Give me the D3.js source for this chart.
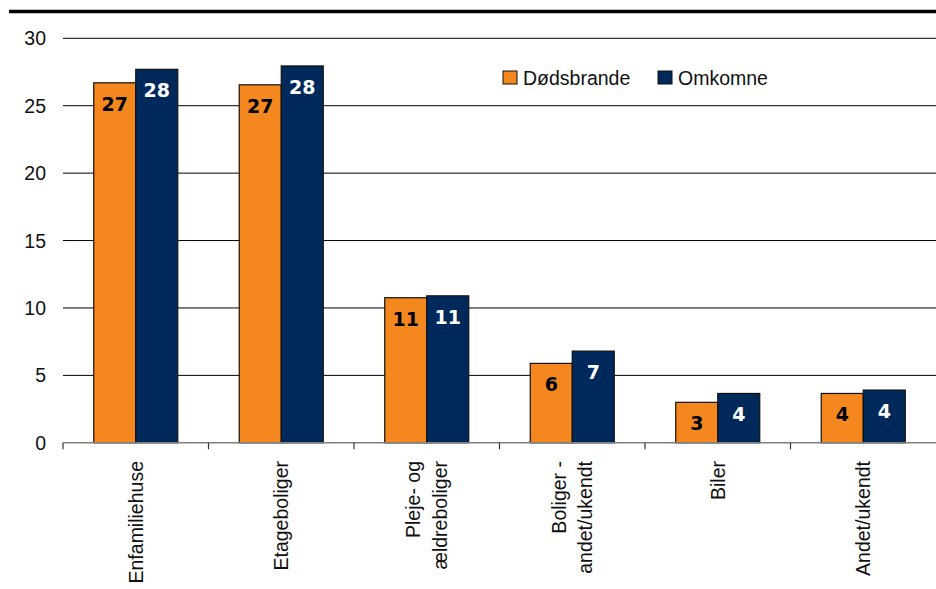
<!DOCTYPE html>
<html>
<head>
<meta charset="utf-8">
<script src="https://cdn.jsdelivr.net/npm/d3@7/dist/d3.min.js"></script>
<style>
  html, body { margin: 0; padding: 0; background: #fff; }
  svg { display: block; }
  text { font-family: "Liberation Sans", Arial, sans-serif; }
</style>
</head>
<body>
<svg id="chart" width="936" height="589"></svg>
<script>
// ---- data ----
const categories = [
  ["Enfamiliehuse"],
  ["Etageboliger"],
  ["Pleje- og", "ældreboliger"],
  ["Boliger -", "andet/ukendt"],
  ["Biler"],
  ["Andet/ukendt"]
];
const seriesNames = ["Dødsbrande", "Omkomne"];
const dodsbrande = [26.7, 26.55, 10.76, 5.89, 3.0, 3.66];
const omkomne    = [27.7, 27.95, 10.9, 6.8, 3.66, 3.91];
const yTicks = [0, 5, 10, 15, 20, 25, 30];
const colors = ["#F4881F", "#00295B"];

// ---- layout ----
const W = 936, H = 589;
const plot = { left: 63, right: 936, top: 38.3, bottom: 442.8 };
const svg = d3.select("#chart");

const catKeys = categories.map(c => c.join(" "));
const x0 = d3.scaleBand().domain(catKeys).range([plot.left, plot.right]).padding(0);
const bw = x0.bandwidth();
const x1 = d3.scaleBand().domain(seriesNames).range([bw * 0.2113, bw * 0.7887]).padding(0);
const y = d3.scaleLinear().domain([0, 30]).range([plot.bottom, plot.top]);

// top rule
svg.append("line")
  .attr("x1", 9).attr("x2", W).attr("y1", 11.6).attr("y2", 11.6)
  .attr("stroke", "#000").attr("stroke-width", 3.5);

// gridlines
svg.append("g").selectAll("line")
  .data(yTicks.filter(d => d > 0))
  .join("line")
  .attr("x1", plot.left).attr("x2", plot.right)
  .attr("y1", d => y(d)).attr("y2", d => y(d))
  .attr("stroke", "#000").attr("stroke-width", 1);

// y tick labels
svg.append("g").selectAll("text")
  .data(yTicks)
  .join("text")
  .attr("x", 46).attr("y", d => y(d))
  .attr("dy", "0.36em")
  .attr("text-anchor", "end")
  .attr("font-size", "19.5px")
  .attr("fill", "#111")
  .text(d => d);

// bars
const rows = categories.map((c, i) => ({
  key: catKeys[i],
  vals: [
    { s: seriesNames[0], v: dodsbrande[i], si: 0 },
    { s: seriesNames[1], v: omkomne[i], si: 1 }
  ]
}));

const groups = svg.append("g").selectAll("g")
  .data(rows)
  .join("g")
  .attr("transform", d => `translate(${x0(d.key)},0)`);

groups.selectAll("rect")
  .data(d => d.vals)
  .join("rect")
  .attr("x", d => x1(d.s))
  .attr("width", x1.bandwidth())
  .attr("y", d => y(d.v))
  .attr("height", d => y(0) - y(d.v))
  .attr("fill", d => colors[d.si])
  .attr("stroke", "#111")
  .attr("stroke-width", 1.2);

groups.selectAll("text.val")
  .data(d => d.vals)
  .join("text")
  .attr("class", "val")
  .attr("x", d => x1(d.s) + x1.bandwidth() / 2)
  .attr("y", d => y(d.v) + 28)
  .attr("text-anchor", "middle")
  .style("font-family", "'DejaVu Sans', Verdana, sans-serif")
  .attr("font-weight", "bold")
  .attr("font-size", "19px")
  .attr("fill", d => d.si === 0 ? "#000" : "#fff")
  .text(d => d3.format(".0f")(d.v));

// x axis baseline and ticks
svg.append("line")
  .attr("x1", plot.left).attr("x2", plot.right)
  .attr("y1", y(0)).attr("y2", y(0))
  .attr("stroke", "#808080").attr("stroke-width", 1.5);

const boundaries = catKeys.map(k => x0(k));
svg.append("g").selectAll("line")
  .data(boundaries)
  .join("line")
  .attr("x1", d => d).attr("x2", d => d)
  .attr("y1", y(0)).attr("y2", y(0) + 6.5)
  .attr("stroke", "#333").attr("stroke-width", 1.2);

// category labels (rotated)
const capH = 19.5 * 0.716;
const lineH = 26.5;
const catLabels = svg.append("g").selectAll("text")
  .data(categories)
  .join("text")
  .attr("transform", (d, i) => `translate(${x0(catKeys[i]) + bw / 2},461) rotate(-90)`)
  .attr("text-anchor", "end")
  .attr("font-size", "19.5px")
  .attr("fill", "#111");
catLabels.each(function(lines) {
  const t = d3.select(this);
  const n = lines.length;
  lines.forEach((ln, j) => {
    t.append("tspan")
      .attr("x", 0)
      .attr("y", capH / 2 + (j - (n - 1) / 2) * lineH)
      .text(ln);
  });
});

// legend
const legend = svg.append("g");
const legendX = [503, 658];
seriesNames.forEach((s, i) => {
  legend.append("rect")
    .attr("x", legendX[i]).attr("y", 71)
    .attr("width", 14).attr("height", 13)
    .attr("fill", colors[i])
    .attr("stroke", "#111").attr("stroke-width", 1);
  legend.append("text")
    .attr("x", legendX[i] + 20).attr("y", 84.5)
    .attr("font-size", "19.5px")
    .attr("fill", "#111")
    .text(s);
});
</script>
</body>
</html>
